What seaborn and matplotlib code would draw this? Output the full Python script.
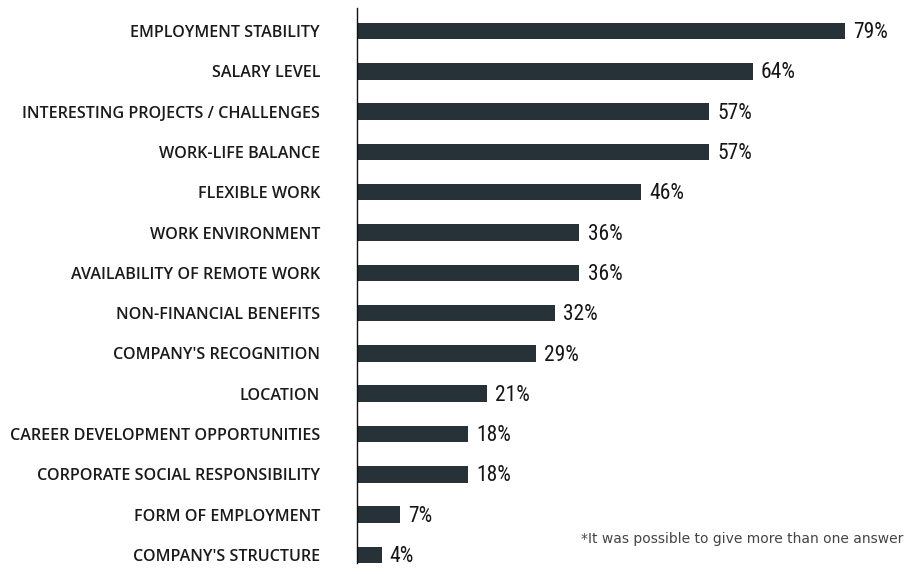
import pandas as pd
import seaborn as sns
import matplotlib.pyplot as plt

# Survey data
factors = ['EMPLOYMENT STABILITY', 'SALARY LEVEL', 'INTERESTING PROJECTS / CHALLENGES',
           'WORK-LIFE BALANCE', 'FLEXIBLE WORK', 'WORK ENVIRONMENT',
           'AVAILABILITY OF REMOTE WORK', 'NON-FINANCIAL BENEFITS',
           "COMPANY'S RECOGNITION", 'LOCATION', 'CAREER DEVELOPMENT OPPORTUNITIES',
           'CORPORATE SOCIAL RESPONSIBILITY', 'FORM OF EMPLOYMENT', "COMPANY'S STRUCTURE"]
shares = [79, 64, 57, 57, 46, 36, 36, 32, 29, 21, 18, 18, 7, 4]
footnote = '*It was possible to give more than one answer'

df = pd.DataFrame({'Factor': factors, 'Share': shares})

sns.set_style('white')
plt.rcParams['font.family'] = ['Open Sans', 'DejaVu Sans']

fig = plt.figure(figsize=(9.08, 5.74), dpi=100)
ax = fig.add_axes([357 / 908, 11 / 574, 1 - 357 / 908, 555 / 574])

bar_color = '#263238'
sns.barplot(data=df, x='Share', y='Factor', orient='h', color=bar_color,
            width=0.41, saturation=1, linewidth=0, ax=ax)

ax.set_xlim(0, (908 - 357) / 6.18)
ax.set_ylim(13.2, -0.571)

# value labels (narrow face)
value_fonts = ['Liberation Sans Narrow', 'Roboto Condensed', 'DejaVu Sans Condensed',
               'Roboto', 'DejaVu Sans']
for i, v in enumerate(shares):
    ax.text(v + 1.3, i + 0.04, f'{v}%', va='center', ha='left', fontsize=15.5,
            family=value_fonts, fontweight='normal', color='#151515')

ax.set_xlabel('')
ax.set_ylabel('')
ax.set_xticks([])
ax.tick_params(axis='y', length=0, pad=26.6)
for lbl in ax.get_yticklabels():
    lbl.set_fontsize(11.6)
    lbl.set_fontweight('semibold')
    lbl.set_color('#1a1a1a')

for s in ['top', 'right', 'bottom']:
    ax.spines[s].set_visible(False)
ax.spines['left'].set_color('#111111')
ax.spines['left'].set_linewidth(1)

fig.text(903 / 908, 1 - 539 / 574, footnote, ha='right', va='center',
         fontsize=10, color='#444444', family=['DejaVu Sans'])

fig.savefig('out.png', dpi=100)
